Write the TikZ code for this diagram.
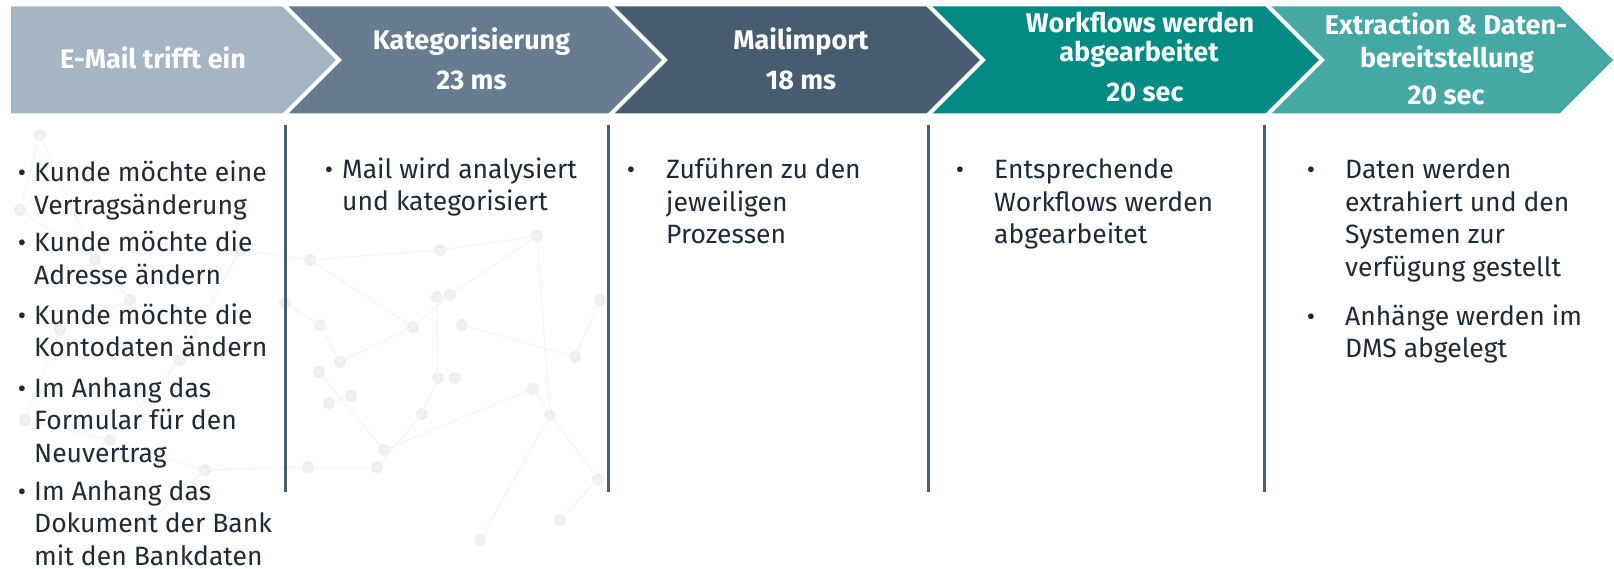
\documentclass[tikz,border=0pt]{standalone}
\usepackage{fontspec}
\setmainfont{Fira Sans}
\definecolor{cA}{HTML}{A5B5C3}
\definecolor{cB}{HTML}{677C90}
\definecolor{cC}{HTML}{475B71}
\definecolor{cD}{HTML}{008A84}
\definecolor{cE}{HTML}{45A8A5}
\definecolor{txt}{HTML}{1E2B37}
\definecolor{vline}{HTML}{4B5E72}
\definecolor{netdot}{HTML}{EDEFF1}
\definecolor{netline}{HTML}{F4F5F6}
\newcommand\colbox[1]{\parbox[t]{330pt}{\raggedright #1}}
\begin{document}
\begin{tikzpicture}[x=1pt,y=-1pt,
  hdr/.style={text=white,font=\bfseries\fontsize{27}{27}\selectfont,anchor=base,inner sep=0pt},
  body/.style={text=txt,font=\fontsize{26.5}{32.5}\selectfont,anchor=base west,inner sep=0pt},
  bul/.style={text=txt,font=\fontsize{25.5}{32.5}\selectfont,anchor=base,inner sep=0pt},
  sep/.style={draw=vline,line width=3pt},
  gap/.style={draw=white,line width=4pt},
  netl/.style={draw=netline,line width=1pt},
  netd/.style={fill=netdot}]
\useasboundingbox (0,0) rectangle (1614,569);
\fill[white] (0,0) rectangle (1614,569);
% faint background network
\foreach \a/\b in {310/260,320/325,285/303,319/372,340/362,329/403,351/396,384/450,377/467,413/327,437/297,450/295,462/325,438/378,455/378,537/236,575/357,533/389,550/415,422/414,598/479,308/467,40/135,20/210,95/260,60/330,130/300,25/420,110/440,180/360,240/250,205/470,150/520,560/520,480/540,440/250,600/300}
  {\fill[netdot] (\a,\b) circle (6);}
\foreach \a/\b/\c/\d in {310/260/413/327,413/327/450/295,450/295/537/236,537/236/550/415,462/325/575/357,340/362/413/327,319/372/384/450,384/450/533/389,533/389/550/415,550/415/598/479,437/297/438/378,438/378/422/414,422/414/377/467,329/403/351/396,285/303/320/325,320/325/340/362,40/135/95/260,95/260/130/300,130/300/60/330,60/330/25/420,25/420/110/440,110/440/180/360,180/360/240/250,240/250/310/260,110/440/205/470,205/470/150/520,205/470/308/467,308/467/377/467,560/520/598/479,480/540/550/415,440/250/537/236,440/250/310/260,600/300/575/357,20/210/40/135,20/210/95/260}
  {\draw[netl] (\a,\b) -- (\c,\d);}
% chevrons
\def\ty{6.5}\def\by{113.5}\def\my{60}\def\dd{53.5}
\fill[cA] (11,\ty) -- (339-\dd,\ty) -- (339,\my) -- (339-\dd,\by) -- (11,\by) -- cycle;
\fill[cB] (339-\dd,\ty) -- (665-\dd,\ty) -- (665,\my) -- (665-\dd,\by) -- (339-\dd,\by) -- (339,\my) -- cycle;
\fill[cC] (665-\dd,\ty) -- (983-\dd,\ty) -- (983,\my) -- (983-\dd,\by) -- (665-\dd,\by) -- (665,\my) -- cycle;
\fill[cD] (983-\dd,\ty) -- (1322-\dd,\ty) -- (1322,\my) -- (1322-\dd,\by) -- (983-\dd,\by) -- (983,\my) -- cycle;
\fill[cE] (1322-\dd,\ty) -- (1613-\dd,\ty) -- (1613,\my) -- (1613-\dd,\by) -- (1322-\dd,\by) -- (1322,\my) -- cycle;
\foreach \t in {339,665,983,1322}
  {\draw[gap] (\t-\dd-3,\ty-3) -- (\t,\my) -- (\t-\dd-3,\by+3);}
% headers
\node[hdr] (h1) at (153,69) {E-Mail trifft ein};
\node[hdr] (h2t) at (471.5,50) {Kategorisierung};
\node[hdr] (h2m) at (471.5,90) {23 ms};
\node[hdr] (h3t) at (801,50) {Mailimport};
\node[hdr] (h3m) at (801,90) {18 ms};
\node[hdr] (h4a) at (1140,33) {Workflows werden};
\node[hdr] (h4b) at (1139,61.5) {abgearbeitet};
\node[hdr] (h4m) at (1145,102) {20 sec};
\node[hdr] (h5a) at (1446,35) {Extraction \& Daten-};
\node[hdr] (h5b) at (1447,68) {bereitstellung};
\node[hdr] (h5m) at (1446,104.5) {20 sec};
% vertical separators
\coordinate (v1t) at (285.5,125); \coordinate (v1b) at (285.5,492);
\coordinate (v2t) at (608,125);   \coordinate (v2b) at (608,492);
\coordinate (v3t) at (928,125);   \coordinate (v3b) at (928,492);
\coordinate (v4t) at (1264,125);  \coordinate (v4b) at (1264,492);
\draw[sep] (v1t) -- (v1b);
\draw[sep] (v2t) -- (v2b);
\draw[sep] (v3t) -- (v3b);
\draw[sep] (v4t) -- (v4b);
% column 1
\node[bul] (b11) at (22,182) {•};
\node[body] (t11) at (34,182) {\colbox{Kunde möchte eine\\Vertragsänderung}};
\node[bul] (b12) at (22,252) {•};
\node[body] (t12) at (34,252) {\colbox{Kunde möchte die\\Adresse ändern}};
\node[bul] (b13) at (22,324) {•};
\node[body] (t13) at (34,324) {\colbox{Kunde möchte die\\Kontodaten ändern}};
\node[bul] (b14) at (22,397) {•};
\node[body] (t14) at (34,397) {\colbox{Im Anhang das\\Formular für den\\Neuvertrag}};
\node[bul] (b15) at (22,500) {•};
\node[body] (t15) at (34,500) {\colbox{Im Anhang das\\Dokument der Bank\\mit den Bankdaten}};
% column 2
\node[bul] (b21) at (329,178.5) {•};
\node[body] (t21) at (342,178.5) {\colbox{Mail wird analysiert\\und kategorisiert}};
% column 3
\node[bul] (b31) at (631,179) {•};
\node[body] (t31) at (666,179) {\colbox{Zuführen zu den\\jeweiligen\\Prozessen}};
% column 4
\node[bul] (b41) at (960,179) {•};
\node[body] (t41) at (994,179) {\colbox{Entsprechende\\Workflows werden\\abgearbeitet}};
% column 5
\node[bul] (b51) at (1311,179) {•};
\node[body] (t51) at (1345,179) {\colbox{Daten werden\\extrahiert und den\\Systemen zur\\verfügung gestellt}};
\node[bul] (b52) at (1311,325) {•};
\node[body] (t52) at (1345,325) {\colbox{Anhänge werden im\\DMS abgelegt}};
\end{tikzpicture}
\end{document}
